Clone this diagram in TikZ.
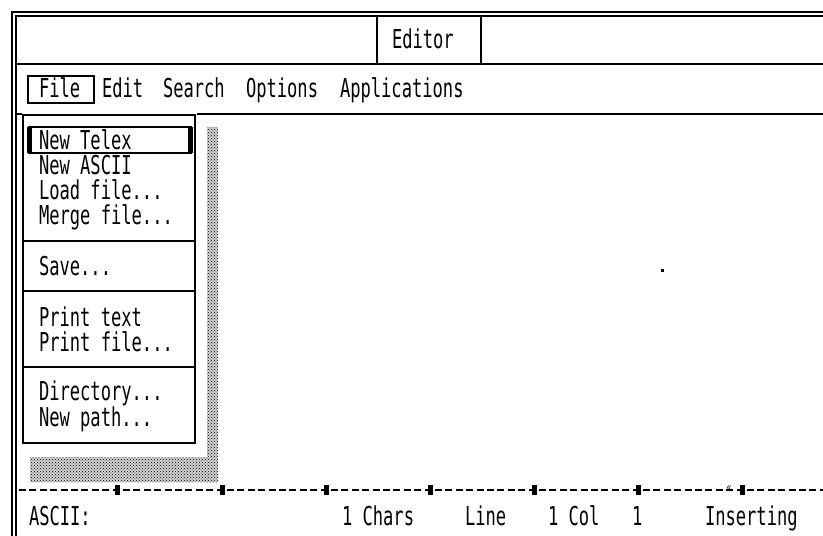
\documentclass[tikz,border=0pt]{standalone}
\usepackage{fontspec}
\newfontfamily\scr[FakeStretch=0.658]{DejaVu Sans Mono}
\usetikzlibrary{patterns}
\begin{document}
\begin{tikzpicture}[x=1pt,y=-1pt,line width=1.5pt,
  txt/.style={font=\scr\fontsize{26pt}{28pt}\selectfont,anchor=base west,inner sep=0pt,outer sep=0pt},
  tick/.style={fill=black,draw=none,minimum width=5pt,minimum height=10pt,inner sep=0pt},
  shadow/.style={fill=gray!35,postaction={pattern=crosshatch dots,pattern color=black}}]
\useasboundingbox (0,0) rectangle (823,536);
\fill[white] (0,0) rectangle (823,536);
% outer double frame
\draw[line width=1.3pt] (823,12) -- (12,12) -- (12,536);
\draw[line width=1.3pt] (823,16) -- (16,16) -- (16,536);
% title bar
\draw (16,64) -- (823,64);
\draw (377,16) -- (377,64);
\draw (481,16) -- (481,64);
\node[txt] (title) at (392,48) {Editor};
% menu bar
\draw (16,114) -- (22,114);
\draw (197,114) -- (823,114);
\draw (28,76) rectangle (94,103);
\node[txt] (mfile) at (39,97) {File};
\node[txt] (medit) at (102,97) {Edit};
\node[txt] (msearch) at (163,97) {Search};
\node[txt] (mopt) at (246,97) {Options};
\node[txt] (mapp) at (340,97) {Applications};
% shadow
\path[shadow] (207,127) rectangle (218,482);
\path[shadow] (30,457) rectangle (218,482);
% dropdown
\draw[fill=white] (23,115) rectangle (195,443);
\draw (23,241) -- (195,241);
\draw (23,291) -- (195,291);
\draw (23,367) -- (195,367);
\draw (29,127) rectangle (191,153);
\draw[line width=5pt] (29.5,127) -- (29.5,153);
\draw[line width=5pt] (190.5,127) -- (190.5,153);
\node[txt] (i1) at (39,149) {New Telex};
\node[txt] (i2) at (39,174) {New ASCII};
\node[txt] (i3) at (39,199) {Load file...};
\node[txt] (i4) at (39,224) {Merge file...};
\node[txt] (i5) at (39,275) {Save...};
\node[txt] (i6) at (39,326) {Print text};
\node[txt] (i7) at (39,351) {Print file...};
\node[txt] (i8) at (39,400) {Directory...};
\node[txt] (i9) at (39,426) {New path...};
% stray dot
\fill (661,269) rectangle (664,272);
% status line
\draw[dash pattern=on 7pt off 3.4pt] (19,490) -- (823,490);
\foreach \x [count=\i] in {117,222,326,430,534,638,742}
  \node[tick] (t\i) at (\x,490) {};
\node[font=\scr\fontsize{12pt}{12pt}\selectfont,inner sep=0pt] (ins) at (729,488) {«};
\node[txt] (s1) at (29,525) {ASCII:};
\node[txt] (s2) at (342,525) {1 Chars};
\node[txt] (s3) at (465,525) {Line};
\node[txt] (s4) at (548,525) {1 Col};
\node[txt] (s5) at (632,525) {1};
\node[txt] (s6) at (705,525) {Inserting};
\end{tikzpicture}
\end{document}
